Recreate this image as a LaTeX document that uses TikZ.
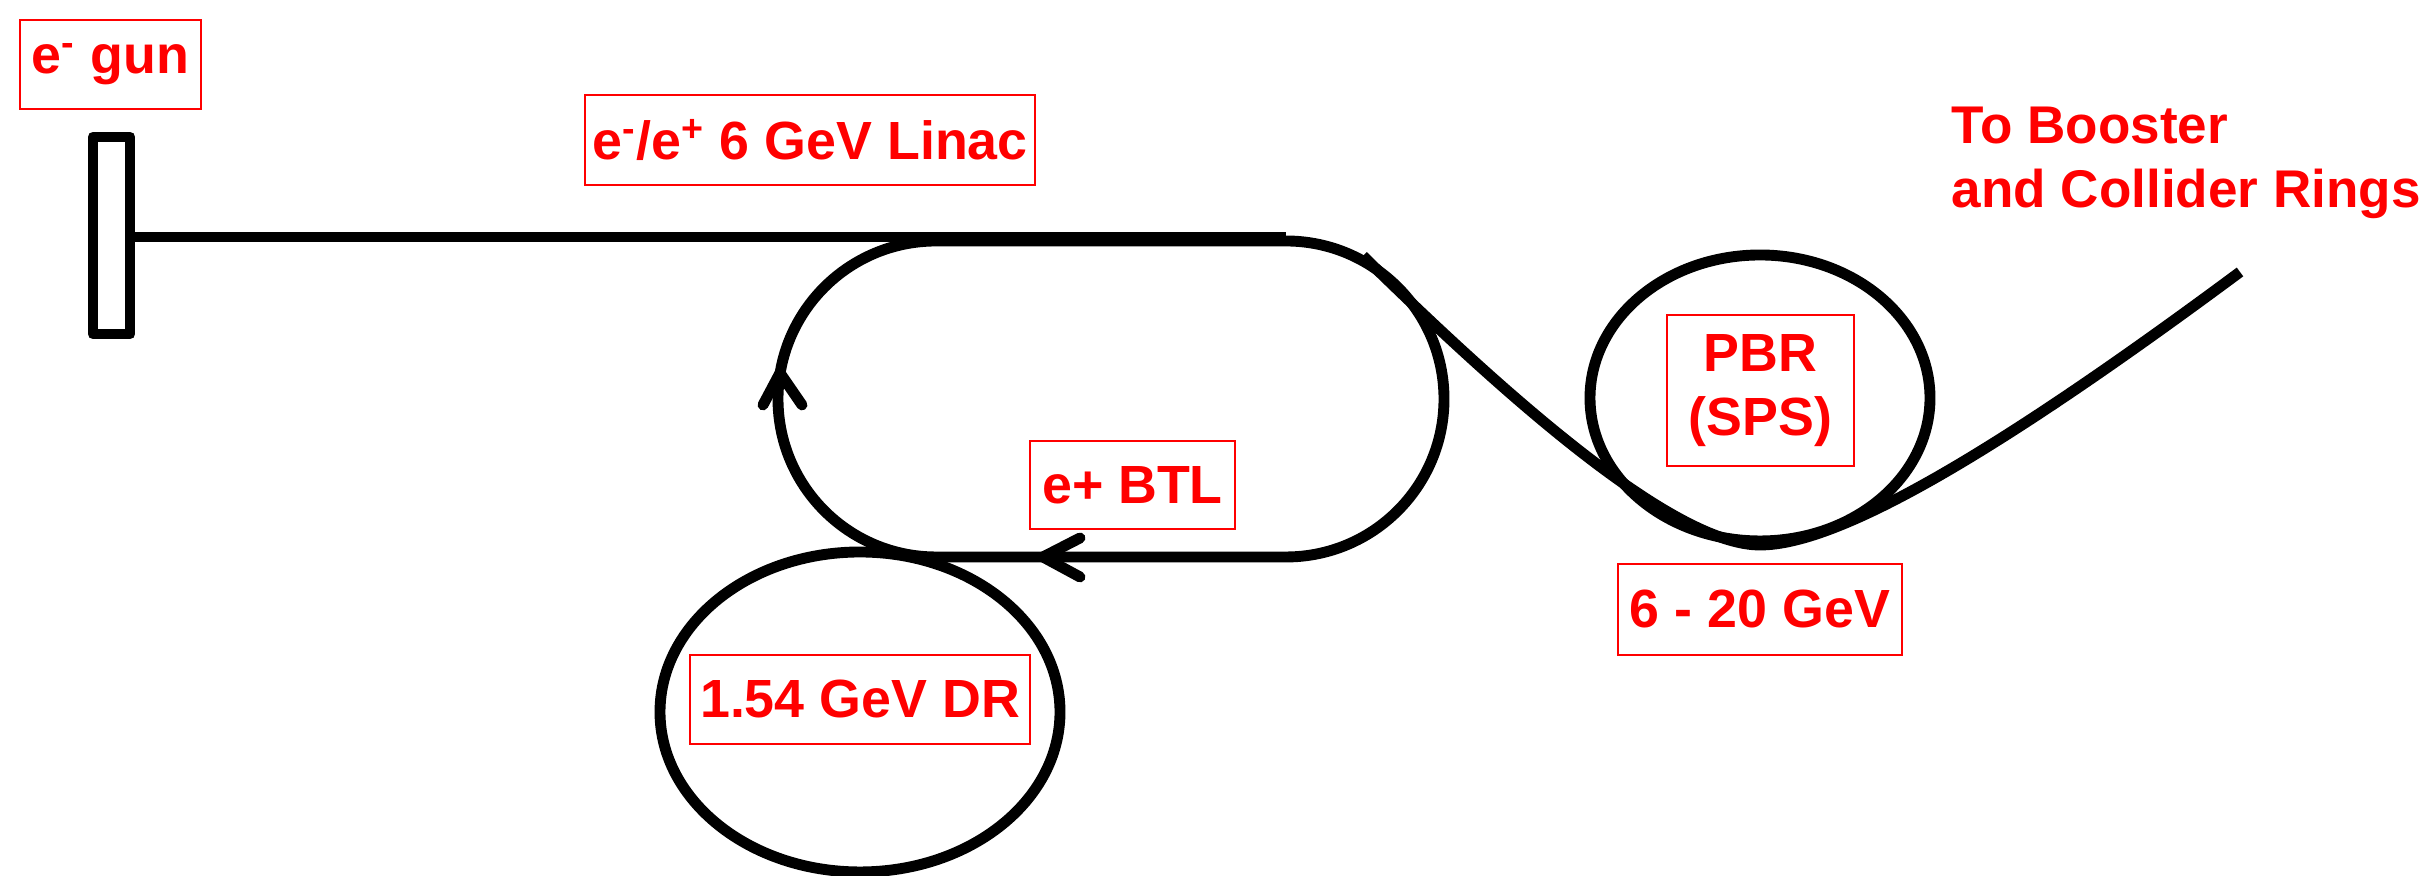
\documentclass[tikz,border=0pt]{standalone}
\usepackage{fontspec}
\setmainfont{Liberation Sans}
\begin{document}
\begin{tikzpicture}[
  beam/.style={line width=3.1pt},
  tag/.style={draw=red, line width=0.6pt, text=red, inner sep=0pt, align=center,
    font=\bfseries\fontsize{15.3}{18.3}\selectfont},
  ]
  \useasboundingbox (0,0) rectangle (24.24,8.76);

  % Gun and linac
  \draw[beam, line join=round] (0.93,5.42) rectangle (1.30,7.39);
  \coordinate (linac start) at (1.30,6.39);
  \coordinate (linac end) at (12.86,6.39);
  \draw[beam] (linac start) -- (linac end);
  \node[tag, minimum width=1.81cm, minimum height=0.89cm] (gun) at (1.105,8.115) {e\textsuperscript{-} gun};
  \node[tag, minimum width=4.50cm, minimum height=0.90cm] (linac) at (8.10,7.36) {e\textsuperscript{-}/e\textsuperscript{+} 6 GeV Linac};

  % Transfer loop
  \draw[beam] (9.36,6.35) -- (12.86,6.35) arc[start angle=90, end angle=-90, radius=1.58]
    -- (9.36,3.19) arc[start angle=270, end angle=90, radius=1.58];
  \draw[beam, line cap=round, line join=round] (7.63,4.71) -- (7.80,5.03) -- (8.02,4.71);
  \draw[beam, line cap=round, line join=round] (10.80,3.38) -- (10.43,3.19) -- (10.80,2.99);
  \node[tag, minimum width=2.05cm, minimum height=0.88cm] (btl) at (11.325,3.91) {e+ BTL};

  % Damping ring
  \draw[beam] (8.60,1.64) ellipse [x radius=2.00, y radius=1.60];
  \node[tag, minimum width=3.40cm, minimum height=0.89cm] (dr) at (8.60,1.765) {1.54 GeV DR};

  % PBR
  \draw[beam] (17.60,4.78) ellipse [x radius=1.70, y radius=1.43];
  \node[tag, minimum width=1.87cm, minimum height=1.51cm] (pbr) at (17.605,4.855) {PBR\\(SPS)};
  \node[tag, minimum width=2.84cm, minimum height=0.91cm] (energy) at (17.60,2.665) {6 - 20 GeV};

  % Extraction line
  \draw[beam] (13.63,6.20) .. controls (15.30,4.56) and (16.80,3.31) .. (17.60,3.31)
    .. controls (18.40,3.31) and (20.00,4.26) .. (22.40,6.04);
  \node[text=red, inner sep=0pt, anchor=north west, align=left,
    font=\bfseries\fontsize{15.1}{18.3}\selectfont] (rings) at (19.51,7.70) {To Booster\\and Collider Rings};

\end{tikzpicture}
\end{document}
